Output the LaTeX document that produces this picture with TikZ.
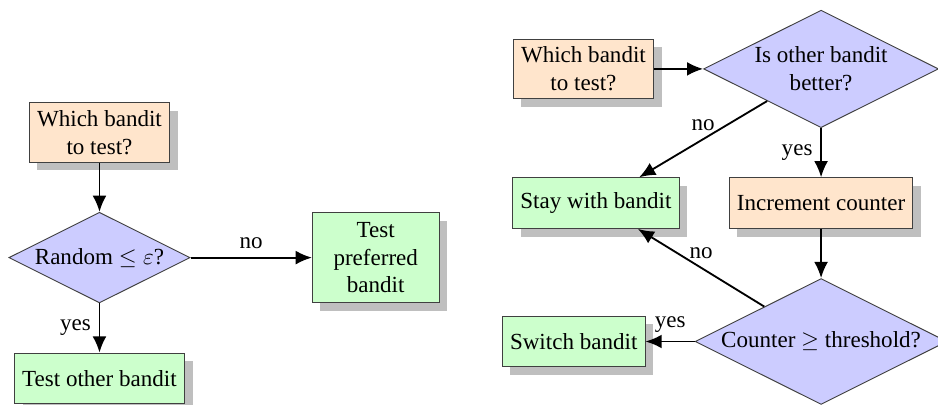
\documentclass[tikz,border=0pt]{standalone}
\usepackage{amsmath}
\usepackage{amssymb}
\usepackage{fontspec}
\setmainfont{LiberationSerif-Regular.ttf}[BoldFont=LiberationSerif-Bold.ttf, ItalicFont=LiberationSerif-Italic.ttf]
\usepackage{tikz}
\usetikzlibrary{positioning, shapes.geometric, shadows, arrows.meta}

\begin{document}
\begin{tikzpicture}[
    node distance=0.75cm,
    box/.style={rectangle, draw=black!75, minimum height=22pt, align=center,
        drop shadow={shadow xshift=3.5pt, shadow yshift=-3.5pt, fill=black!25, opacity=1}},
    query/.style={box, fill=orange!20},
    action/.style={box, fill=green!20},
    decision/.style={diamond, aspect=2, inner sep=1pt, draw=black!75, fill=blue!20, align=center},
    flow/.style={draw, thick, -{Latex[length=7pt, width=6pt]}}
]
    \useasboundingbox (-1.517,-4.14) rectangle (12.787,2.021);

    % epsilon-greedy choice
    \node [query] (w1) {Which bandit\\to test?};
    \node [decision, below=of w1] (rnd) {Random $\leq \varepsilon$?};
    \node [action, right=1.85cm of rnd, minimum width=55pt, minimum height=39pt] (pref) {Test\\preferred\\bandit};
    \node [action, below=of rnd] (oth) {Test other bandit};

    \draw [flow] (w1) -- (rnd);
    \draw [flow] (rnd) -- node[above] {no} (pref);
    \draw [flow] (rnd) -- node[left] {yes} (oth);

    % counter based switching
    \node [query] (w2) at (7.38,0.97) {Which bandit\\to test?};
    \node [decision, right=of w2] (bet) {Is other bandit\\better?};
    \node [query, below=of bet] (inc) {Increment counter};
    \node [action, left=of inc] (stay) {Stay with bandit};
    \node [decision, below=of inc] (cnt) {Counter $\geq$ threshold?};
    \node [action, left=of cnt] (sw) {Switch bandit};

    \draw [flow] (w2) -- (bet);
    \draw [flow] (bet) -- node[above] {no} (stay);
    \draw [flow] (bet) -- node[left] {yes} (inc);
    \draw [flow] (inc) -- (cnt);
    \draw [flow] (cnt) -- node[above] {no} (stay);
    \draw [flow] (cnt) -- node[above] {yes} (sw);
\end{tikzpicture}
\end{document}
